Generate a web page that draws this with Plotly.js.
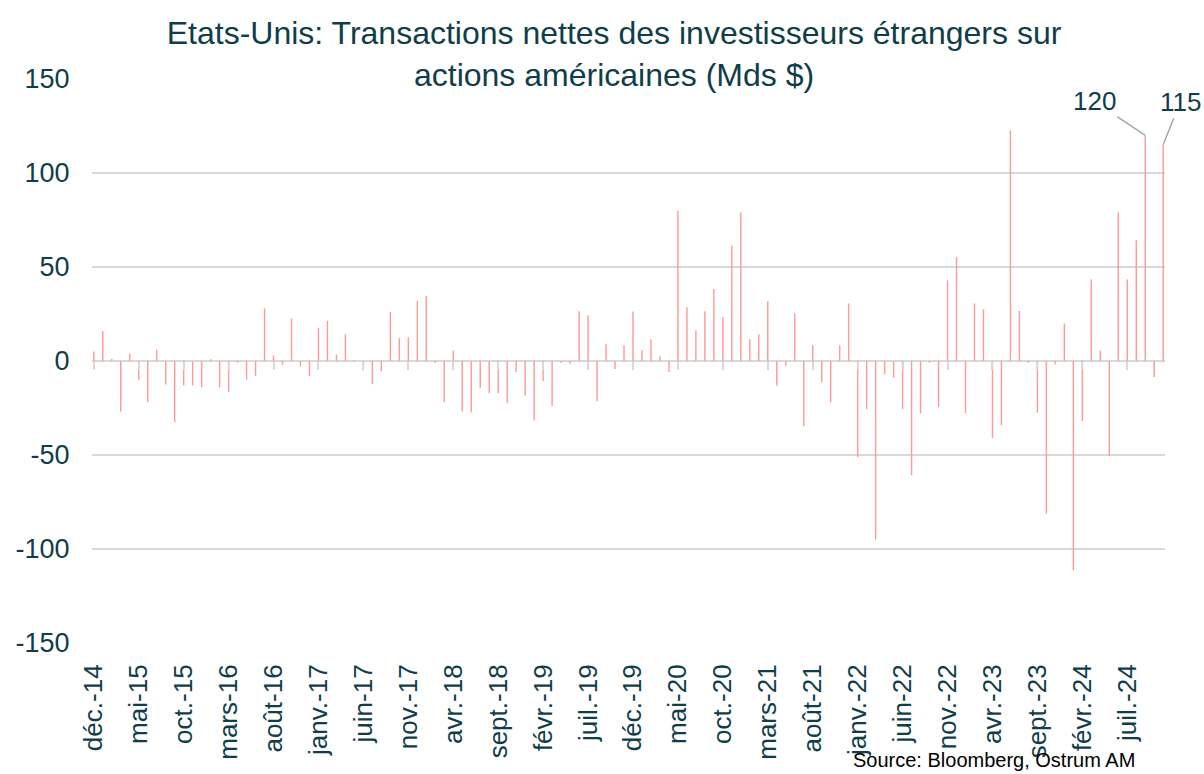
<!DOCTYPE html>
<html>
<head>
<meta charset="utf-8">
<script src="https://cdn.plot.ly/plotly-3.0.1.min.js"></script>
<style>html,body{margin:0;padding:0;background:#fff;}#chart{width:1204px;height:774px;}</style>
</head>
<body>
<div id="chart"></div>
<script>
// Month names (French abbreviations) and first month of the series
const monthNames = ["janv.", "févr.", "mars", "avr.", "mai", "juin", "juil.", "août", "sept.", "oct.", "nov.", "déc."];
const startMonthIndex = 11; // déc.
const startYear = 2014;
const monthCount = 120;     // déc.-14 .. nov.-24

// Net foreign purchases of US equities (Mds $), monthly, déc.-14 -> nov.-24
const netFlows = [
  5, 16, 1, -27, 4, -10, -22, 6, -12.5, -32.5, -13, -13, -14,
  1, -14, -16.5, -1, -10, -8, 28, 3, -2, 22.6, -3, -8,
  17.6, 21.4, 3.4, 14.2, 0.5, -5, -12.3, -5.5, 26.2, 12.1, 12.6, 31.9,
  34.5, -1, -21.9, 5.7, -26.9, -27.2, -14.2, -17.1, -17.1, -22.4, -5.9, -18.3,
  -31.7, -10.7, -24, -1, -1.4, 26.5, 24.4, -21.4, 8.9, -4.3, 8.4, 26.3,
  5.7, 11.6, 2.5, -5.9, 79.9, 28.6, 16.4, 26.5, 38.3, 23.3, 61.4, 79,
  11.6, 14.2, 31.9, -13.2, -2.5, 25.3, -34.7, 8.4, -11.2, -21.9, 8.4, 30.6,
  -51.2, -25.6, -95, -7.1, -9, -25.6, -60.8, -27.8, -1, -24.6, 42.9, 55.2,
  -27.8, 30.6, 27.6, -41, -34.2, 122.7, 26.6, -1, -27.5, -81.2, -1.8, 19.9,
  -111.3, -31.9, 43.4, 5.7, -50.5, 79.1, 43.4, 64.2, 120, -8.5, 115
];

// Y-axis tick values and labels (hyphen-minus as in the source)
const yTickVals = [-150, -100, -50, 0, 50, 100, 150];
const yTickText = ["-150", "-100", "-50", "0", "50", "100", "150"];

// Category labels
const months = [];
for (let i = 0; i < monthCount; i++) {
  const m = (startMonthIndex + i) % 12;
  const y = startYear + Math.floor((startMonthIndex + i) / 12);
  months.push(monthNames[m] + "-" + String(y % 100).padStart(2, "0"));
}
// Tick labels every 5 months
const tickLabels = months.filter((_, i) => i % 5 === 0);

const labelledIdx = [117, 119];

const teal = "#0f3e4a";
const font = "Liberation Sans, Arial, sans-serif";

const traces = [
  {
    type: "bar",
    x: months,
    y: netFlows,
    width: 0.16,
    marker: { color: "#ff9a9a", line: { width: 0 } },
    hoverinfo: "x+y",
    showlegend: false
  },
  {
    type: "scatter",
    mode: "lines",
    x: months,
    y: months.map(() => null),
    xaxis: "x2",
    yaxis: "y",
    hoverinfo: "skip",
    showlegend: false
  }
];

const layout = {
  width: 1204,
  height: 774,
  paper_bgcolor: "#ffffff",
  plot_bgcolor: "#ffffff",
  margin: { l: 92, r: 39, t: 79, b: 131 },
  font: { family: font, color: teal, size: 26 },
  title: {
    text: "Etats-Unis: Transactions nettes des investisseurs étrangers sur<br>actions américaines (Mds $)",
    font: { family: font, size: 32, color: teal },
    xref: "container",
    x: 0.51,
    xanchor: "center",
    yref: "container",
    y: 0.943,
    yanchor: "middle"
  },
  bargap: 0.84,
  xaxis: {
    type: "category",
    categoryorder: "array",
    categoryarray: months,
    range: [-0.2, 119.2],
    tickmode: "array",
    tickvals: tickLabels,
    ticktext: tickLabels,
    tickangle: -90,
    ticks: "outside",
    ticklen: 10,
    tickcolor: "rgba(0,0,0,0)",
    tickfont: { family: font, size: 26, color: teal },
    showgrid: false,
    showline: false,
    zeroline: false,
    fixedrange: true
  },
  xaxis2: {
    type: "category",
    categoryorder: "array",
    categoryarray: months,
    overlaying: "x",
    anchor: "free",
    position: 0.5,
    side: "bottom",
    range: [-0.2, 119.2],
    tickmode: "array",
    tickvals: tickLabels,
    ticks: "outside",
    ticklen: 8,
    tickwidth: 2,
    tickcolor: "#d9d9d9",
    showticklabels: false,
    showgrid: false,
    showline: false,
    zeroline: false,
    fixedrange: true
  },
  yaxis: {
    range: [-150, 150],
    tickmode: "array",
    tickvals: yTickVals,
    ticktext: yTickText,
    ticks: "outside",
    ticklen: 16,
    tickcolor: "rgba(0,0,0,0)",
    tickfont: { family: font, size: 27, color: teal },
    showgrid: true,
    gridcolor: "#d9d9d9",
    gridwidth: 1.5,
    zeroline: true,
    zerolinecolor: "#d9d9d9",
    zerolinewidth: 2.5,
    showline: false,
    fixedrange: true
  },
  annotations: [
    {
      x: months[labelledIdx[0]], y: netFlows[labelledIdx[0]],
      xref: "x", yref: "y",
      text: String(netFlows[labelledIdx[0]]),
      showarrow: true, arrowhead: 0, arrowwidth: 1.5, arrowcolor: "#a6a6a6",
      ax: -51, ay: -34,
      font: { family: font, size: 26, color: teal }
    },
    {
      x: months[labelledIdx[1]], y: netFlows[labelledIdx[1]],
      xref: "x", yref: "y",
      text: String(netFlows[labelledIdx[1]]),
      showarrow: true, arrowhead: 0, arrowwidth: 1.5, arrowcolor: "#a6a6a6",
      ax: 17, ay: -43,
      font: { family: font, size: 26, color: teal }
    },
    {
      xref: "paper", yref: "paper",
      x: 0.974, y: -0.208,
      xanchor: "right", yanchor: "middle",
      text: "Source: Bloomberg, Ostrum AM",
      showarrow: false,
      font: { family: font, size: 20, color: "#000000" }
    }
  ]
};

Plotly.newPlot("chart", traces, layout, { displayModeBar: false, staticPlot: true });
</script>
</body>
</html>
